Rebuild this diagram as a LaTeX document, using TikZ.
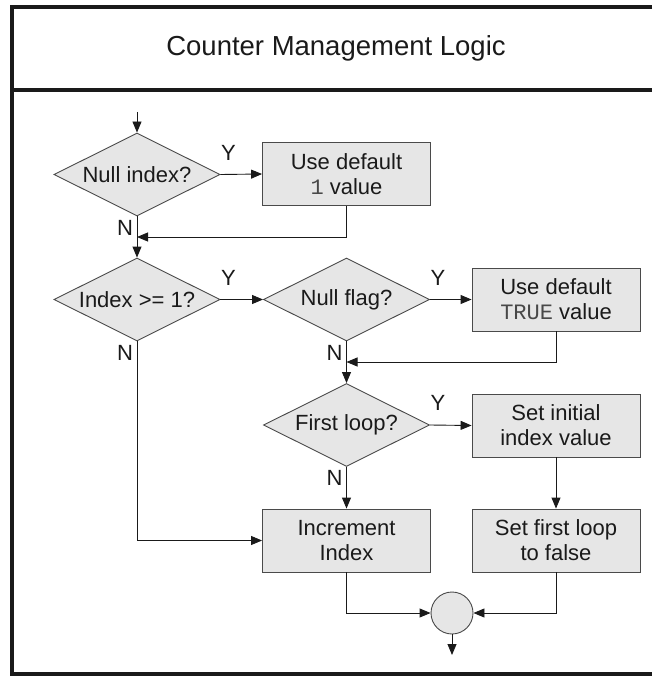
\documentclass[tikz,border=0pt]{standalone}
\usepackage{fontspec}
\setmainfont{Liberation Sans}
\newfontfamily\codefont{Liberation Mono}
\usetikzlibrary{shapes.geometric,arrows.meta}

\definecolor{boxfill}{HTML}{E6E6E6}
\definecolor{boxline}{HTML}{4A4A4A}
\definecolor{ink}{HTML}{1A1A1A}

\newcommand{\code}[1]{{\codefont\color{ink!80}#1}}

\tikzset{
  txt/.style={text=ink,font=\fontsize{22}{25}\selectfont},
  decision/.style={txt,diamond,draw=boxline,fill=boxfill,line width=0.9pt,inner sep=0pt,
    shape aspect=2,minimum width=166pt,minimum height=83pt},
  process/.style={txt,rectangle,draw=boxline,fill=boxfill,line width=0.9pt,align=center,
    minimum width=168pt,minimum height=63pt},
  joint/.style={circle,draw=boxline,fill=boxfill,line width=0.9pt,minimum size=42pt,inner sep=0pt},
  flow/.style={draw=ink,line width=0.9pt,-{Triangle[length=11pt,width=9pt]}},
  yn/.style={txt,inner sep=0pt}
}

\begin{document}
\begin{tikzpicture}[x=1pt,y=-1pt]
\useasboundingbox (0,0) rectangle (652,676);

% frame and heading
\draw[ink,line width=4.5pt] (652,7) -- (12,7) -- (12,674) -- (652,674);
\draw[ink,line width=4.5pt] (12,90) -- (652,90);
\node[text=ink,font=\fontsize{27.5}{30}\selectfont] (title) at (336,48) {Counter Management Logic};

% steps
\node[decision] (nullidx) at (137,174.5) {Null index?};
\node[process] (defidx) at (346.5,174) {Use default\\\code{1} value};
\node[decision] (idxge) at (137,299.5) {Index >= 1?};
\node[decision] (nullflag) at (346.5,299.5) {Null flag?};
\node[process] (defflag) at (556,299.5) {Use default\\\code{TRUE} value};
\node[decision] (first) at (346.5,425) {First loop?};
\node[process] (setinit) at (556,425.5) {Set initial\\index value};
\node[process] (incr) at (346.5,540.5) {Increment\\Index};
\node[process] (setfirst) at (556,540.5) {Set first loop\\to false};
\node[joint] (join) at (452,613) {};

\coordinate (start) at (137,112);
\coordinate (merge1) at (137,237);
\coordinate (merge2) at (346.5,362);
\coordinate (finish) at (452,655);

% connectors
\draw[flow] (start) -- (nullidx.north);
\draw[flow] (nullidx.east) -- (defidx.west);
\draw[flow] (defidx.south) |- (merge1);
\draw[flow] (nullidx.south) -- (idxge.north);
\draw[flow] (idxge.east) -- (nullflag.west);
\draw[flow] (nullflag.east) -- (defflag.west);
\draw[flow] (defflag.south) |- (merge2);
\draw[flow] (nullflag.south) -- (first.north);
\draw[flow] (first.east) -- (setinit.west);
\draw[flow] (setinit.south) -- (setfirst.north);
\draw[flow] (first.south) -- (incr.north);
\draw[flow] (idxge.south) |- (incr.west);
\draw[flow] (incr.south) |- (join.west);
\draw[flow] (setfirst.south) |- (join.east);
\draw[flow] (join.south) -- (finish);

% branch labels
\node[yn] (y1) at ([shift={(8,-22)}]nullidx.east) {Y};
\node[yn] (n1) at ([shift={(-12,11)}]nullidx.south) {N};
\node[yn] (y2) at ([shift={(8,-22)}]idxge.east) {Y};
\node[yn] (n2) at ([shift={(-12,11)}]idxge.south) {N};
\node[yn] (y3) at ([shift={(8,-22)}]nullflag.east) {Y};
\node[yn] (n3) at ([shift={(-12,11)}]nullflag.south) {N};
\node[yn] (y4) at ([shift={(8,-22)}]first.east) {Y};
\node[yn] (n4) at ([shift={(-12,11)}]first.south) {N};
\end{tikzpicture}
\end{document}
